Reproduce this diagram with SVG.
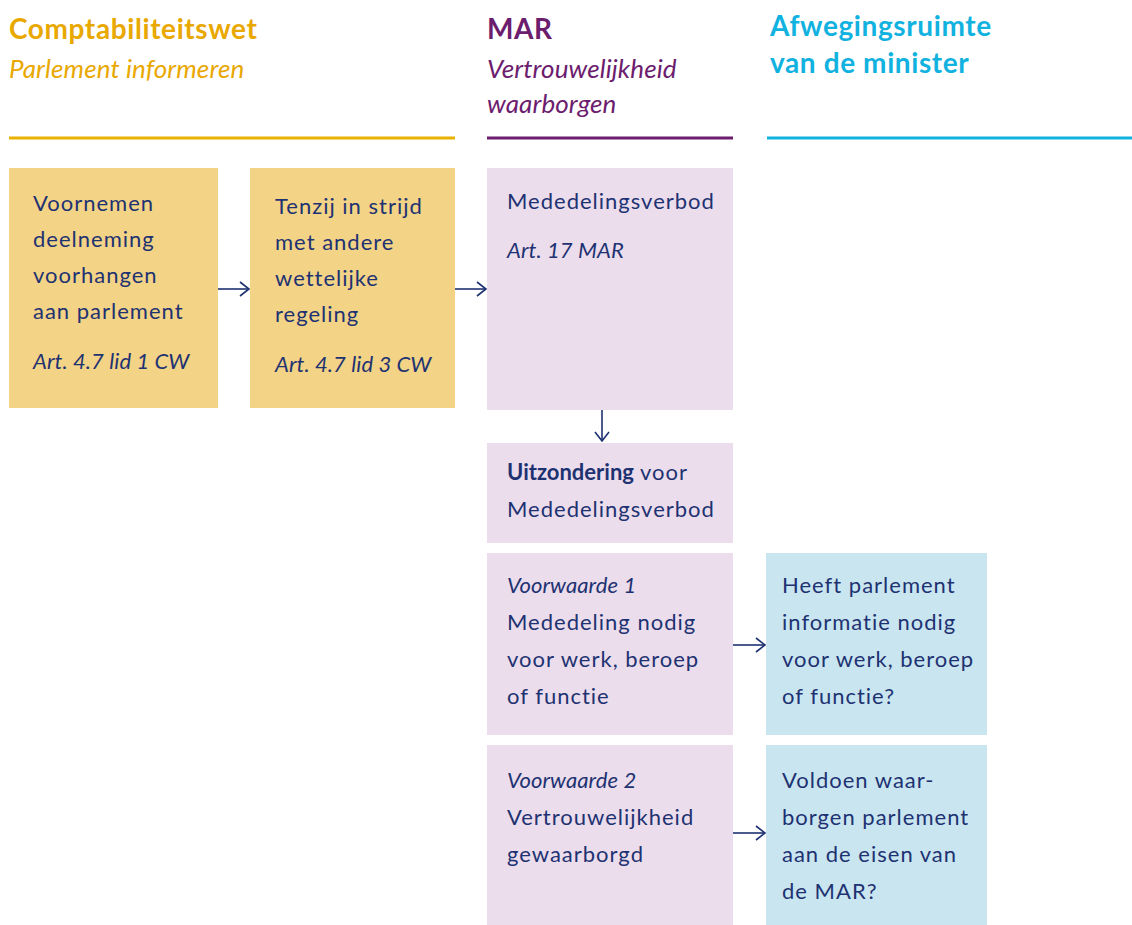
<svg xmlns="http://www.w3.org/2000/svg" width="1132" height="925" viewBox="0 0 1132 925">
<style>
.t{font-family:Lato,"Open Sans","Liberation Sans",sans-serif;font-size:22px;fill:#1E3272;letter-spacing:1px}
.i{font-style:italic;letter-spacing:0.1px}
.b{font-weight:bold;letter-spacing:0}
.h{font-family:Lato,"Open Sans","Liberation Sans",sans-serif;font-size:28px;letter-spacing:0.6px}
.hi{font-family:Lato,"Open Sans","Liberation Sans",sans-serif;font-size:26px;font-style:italic;letter-spacing:0.1px}
.y{fill:#F3D385}.p{fill:#EBDDEC}.c{fill:#C9E6F0}
.con{stroke:#1E3272;stroke-width:1.6;fill:none;marker-end:url(#ah)}
</style>
<defs>
<marker id="ah" viewBox="0 0 12 16" refX="11" refY="8" markerWidth="12" markerHeight="16" markerUnits="userSpaceOnUse" orient="auto">
<polyline points="2,1 11,8 2,15" fill="none" stroke="#1E3272" stroke-width="1.6"/>
</marker>
</defs>
<rect width="1132" height="925" fill="#fff"/>
<g id="header-cw">
<text class="h" font-weight="bold" x="9" y="39" fill="#E9A800">Comptabiliteitswet</text>
<text class="hi" x="9" y="78" fill="#E9A800">Parlement informeren</text>
<rect x="9" y="136.5" width="446" height="3" fill="#E9B200"/>
</g>
<g id="header-mar">
<text class="h" font-weight="bold" x="487" y="39" fill="#6C1D6E">MAR</text>
<text class="hi" x="487" y="78" fill="#6C1D6E">Vertrouwelijkheid</text>
<text class="hi" x="487" y="113" fill="#6C1D6E">waarborgen</text>
<rect x="487" y="136.5" width="246" height="3" fill="#6C1D6E"/>
</g>
<g id="header-min">
<text class="h" font-weight="bold" x="770" y="36" fill="#12B2E0">Afwegingsruimte</text>
<text class="h" font-weight="bold" x="770" y="73" fill="#12B2E0">van de minister</text>
<rect x="767" y="136.5" width="365" height="3" fill="#12B2E0"/>
</g>
<g id="n1">
<rect class="y" x="9" y="168" width="209" height="240"/>
<text class="t" x="33" y="211">Voornemen</text>
<text class="t" x="33" y="247">deelneming</text>
<text class="t" x="33" y="283">voorhangen</text>
<text class="t" x="33" y="319">aan parlement</text>
<text class="t i" x="33" y="369">Art. 4.7 lid 1 CW</text>
</g>
<g id="n2">
<rect class="y" x="250" y="168" width="205" height="240"/>
<text class="t" x="275" y="214">Tenzij in strijd</text>
<text class="t" x="275" y="250">met andere</text>
<text class="t" x="275" y="286">wettelijke</text>
<text class="t" x="275" y="322">regeling</text>
<text class="t i" x="275" y="372">Art. 4.7 lid 3 CW</text>
</g>
<g id="n3">
<rect class="p" x="487" y="168" width="246" height="242"/>
<text class="t" x="507" y="209">Mededelingsverbod</text>
<text class="t i" x="507" y="258">Art. 17 MAR</text>
</g>
<g id="n4">
<rect class="p" x="487" y="443" width="246" height="100"/>
<text class="t" x="507" y="480"><tspan class="b">Uitzondering</tspan> voor</text>
<text class="t" x="507" y="517">Mededelingsverbod</text>
</g>
<g id="n5">
<rect class="p" x="487" y="553" width="246" height="182"/>
<text class="t i" x="507" y="593">Voorwaarde 1</text>
<text class="t" x="507" y="630">Mededeling nodig</text>
<text class="t" x="507" y="667">voor werk, beroep</text>
<text class="t" x="507" y="704">of functie</text>
</g>
<g id="n6">
<rect class="p" x="487" y="745" width="246" height="180"/>
<text class="t i" x="507" y="788">Voorwaarde 2</text>
<text class="t" x="507" y="825">Vertrouwelijkheid</text>
<text class="t" x="507" y="862">gewaarborgd</text>
</g>
<g id="n7">
<rect class="c" x="766" y="553" width="221" height="182"/>
<text class="t" x="782" y="593">Heeft parlement</text>
<text class="t" x="782" y="630">informatie nodig</text>
<text class="t" x="782" y="667">voor werk, beroep</text>
<text class="t" x="782" y="704">of functie?</text>
</g>
<g id="n8">
<rect class="c" x="766" y="745" width="221" height="180"/>
<text class="t" x="782" y="788">Voldoen waar-</text>
<text class="t" x="782" y="825">borgen parlement</text>
<text class="t" x="782" y="862">aan de eisen van</text>
<text class="t" x="782" y="899">de MAR?</text>
</g>
<g id="connectors">
<line class="con" x1="218" y1="289" x2="249" y2="289"/>
<line class="con" x1="455" y1="289" x2="486" y2="289"/>
<line class="con" x1="602" y1="410" x2="602" y2="441"/>
<line class="con" x1="733" y1="645" x2="765" y2="645"/>
<line class="con" x1="733" y1="833" x2="765" y2="833"/>
</g>
</svg>
